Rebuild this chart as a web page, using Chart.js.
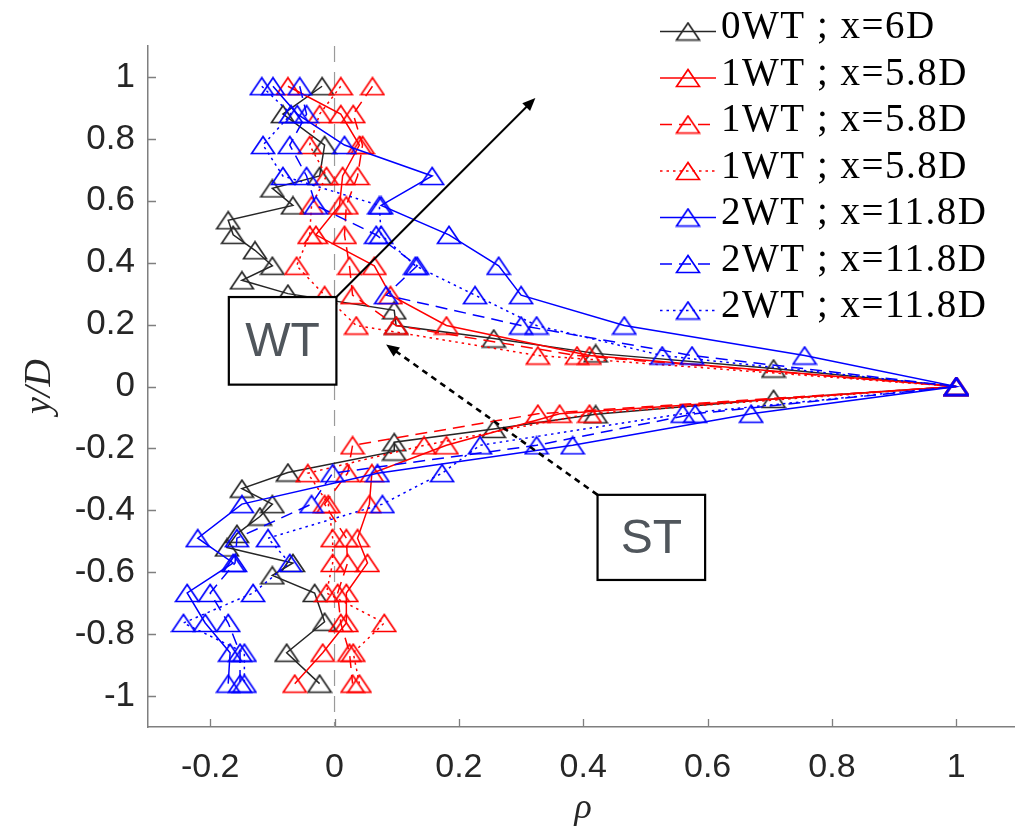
<!DOCTYPE html>
<html>
<head>
<meta charset="utf-8">
<script src="https://cdn.jsdelivr.net/npm/chart.js@4.4.1/dist/chart.umd.min.js"></script>
<style>
  html, body { margin: 0; padding: 0; background: #fff; overflow: hidden; }
  #wrap { width: 1015px; height: 833px; overflow: hidden; }
</style>
</head>
<body>
<div id="wrap"><canvas id="profile-chart" width="1030" height="833"></canvas></div>
<script>
// ===== Correlation profiles rho vs y/D =====
// Values.

const seriesLabels = [
  '0WT ; x=6D',
  '1WT ; x=5.8D',
  '1WT ; x=5.8D',
  '1WT ; x=5.8D',
  '2WT ; x=11.8D',
  '2WT ; x=11.8D',
  '2WT ; x=11.8D',
];

// 0WT has its own (finer) y stations
const yBlack = [0.97, 0.88, 0.78, 0.68, 0.64, 0.585, 0.537, 0.49, 0.44, 0.39,
  0.343, 0.30, 0.246, 0.197, 0.155, 0.107, 0.058, 0,
  -0.04, -0.09, -0.137, -0.18, -0.21, -0.278, -0.33, -0.38, -0.42, -0.476,
  -0.52, -0.57, -0.61, -0.667, -0.76, -0.86, -0.96];
const xBlack = [-0.02, -0.083, -0.016, -0.024, -0.10, -0.067, -0.171, -0.163, -0.128, -0.10,
  -0.149, -0.075, 0.096, 0.099, 0.256, 0.42, 0.706, 1,
  0.706, 0.42, 0.256, 0.096, 0.096, -0.075, -0.149, -0.10, -0.12, -0.157,
  -0.173, -0.067, -0.10, -0.032, -0.016, -0.077, -0.024];

// 1WT / 2WT stations
const yProfile = [0.97, 0.88, 0.78, 0.68, 0.585, 0.49, 0.39, 0.295, 0.197, 0.1, 0,
  -0.088, -0.19, -0.28, -0.38, -0.49, -0.57, -0.667, -0.764, -0.86, -0.96];

const xRedSolid  = [-0.075, 0.01, 0.04, 0.013, 0.008, -0.03, 0.064, 0.09, 0.18, 0.41, 1,
  0.362, 0.18, 0.06, 0.056, 0.037, 0.053, 0.019, 0.019, -0.019, -0.064];
const xRedDashed = [0.061, 0.03, 0.045, 0.037, 0.019, 0.016, 0.024, 0.029, 0.099, 0.39, 1,
  0.327, 0.029, 0.021, -0.016, 0.019, 0.021, 0.005, 0.01, 0.024, 0.029];
const xRedDotted = [0.01, -0.024, -0.04, -0.013, -0.037, -0.04, -0.061, -0.016, 0.035, 0.327, 1,
  0.41, 0.144, -0.043, -0.01, -0.003, -0.003, -0.013, 0.08, 0.03, 0.04];

const xBlueSolid  = [-0.099, -0.06, 0.016, 0.157, 0.075, 0.184, 0.264, 0.3, 0.466, 0.756, 1,
  0.67, 0.383, 0.069, -0.149, -0.22, -0.163, -0.237, -0.208, -0.168, -0.171];
const xBlueDashed = [-0.056, -0.045, -0.072, -0.045, -0.03, 0.067, 0.133, 0.083, 0.3, 0.575, 1,
  0.58, 0.325, -0.003, -0.037, -0.157, -0.16, -0.2, -0.171, -0.152, -0.152];
const xBlueDotted = [-0.117, -0.07, -0.115, -0.083, 0.072, 0.075, 0.13, 0.226, 0.325, 0.527, 1,
  0.56, 0.234, 0.173, 0.077, -0.107, -0.072, -0.131, -0.243, -0.145, -0.145];

const xTicks = [-0.2, 0, 0.2, 0.4, 0.6, 0.8, 1];
const yTicks = [-1, -0.8, -0.6, -0.4, -0.2, 0, 0.2, 0.4, 0.6, 0.8, 1];

// annotation boxes / arrows, in data units
const noteBoxes = [
  { text: 'WT', x0: -0.170, x1: 0.003, y0: 0.289, y1: 0.006 },
  { text: 'ST', x0: 0.423, x1: 0.596, y0: -0.350, y1: -0.625 },
];
const noteArrows = [
  { from: [0.003, 0.289], to: [0.323, 0.932], dash: [], width: 2 },
  { from: [0.423, -0.350], to: [0.083, 0.136], dash: [6, 5], width: 2.6 },
];

const SANS = "'Liberation Sans', Arial, Helvetica, sans-serif";
const SERIF = "'Liberation Serif', 'Times New Roman', serif";
const BLACK = '#262626';
const RED = '#ff0000';
const BLUE = '#0000ff';

// open "^" marker like MATLAB
function triangleMarker(color) {
  const c = document.createElement('canvas');
  c.width = 26;
  c.height = 20;
  const g = c.getContext('2d');
  g.strokeStyle = color;
  g.lineWidth = 1.7;
  g.beginPath();
  g.moveTo(13, 1.5);
  g.lineTo(24.5, 18.5);
  g.lineTo(1.5, 18.5);
  g.closePath();
  g.stroke();
  return c;
}

function toPoints(xs, ys) {
  return xs.map((x, i) => ({ x: x, y: ys[i] }));
}

function makeDataset(idx, xs, ys, color, dash) {
  return {
    label: seriesLabels[idx],
    data: toPoints(xs, ys),
    showLine: true,
    borderColor: color,
    backgroundColor: 'transparent',
    borderWidth: 1.5,
    borderDash: dash,
    pointStyle: triangleMarker(color),
    pointRadius: 10,
    tension: 0,
    order: -idx, // later series on top, like MATLAB
  };
}

const DOT = [2.5, 4];
const DASH = [12, 7];

const datasets = [
  makeDataset(0, xBlack, yBlack, BLACK, []),
  makeDataset(1, xRedSolid, yProfile, RED, []),
  makeDataset(2, xRedDashed, yProfile, RED, DASH),
  makeDataset(3, xRedDotted, yProfile, RED, DOT),
  makeDataset(4, xBlueSolid, yProfile, BLUE, []),
  makeDataset(5, xBlueDashed, yProfile, BLUE, DASH),
  makeDataset(6, xBlueDotted, yProfile, BLUE, DOT),
];

// ---- extra drawing: zero line, inward ticks, notes, legend ----

function drawArrowHead(ctx, x0, y0, x1, y1) {
  const ang = Math.atan2(y1 - y0, x1 - x0);
  const len = 13, half = 5.5;
  ctx.beginPath();
  ctx.moveTo(x1, y1);
  ctx.lineTo(x1 - len * Math.cos(ang) + half * Math.sin(ang), y1 - len * Math.sin(ang) - half * Math.cos(ang));
  ctx.lineTo(x1 - len * Math.cos(ang) - half * Math.sin(ang), y1 - len * Math.sin(ang) + half * Math.cos(ang));
  ctx.closePath();
  ctx.fill();
}

const extras = {
  id: 'extras',
  beforeDatasetsDraw(chart) {
    const { ctx, chartArea } = chart;
    const xs = chart.scales.x;
    const px = xs.getPixelForValue(0);
    ctx.save();
    ctx.strokeStyle = '#9a9a9a';
    ctx.lineWidth = 1.2;
    ctx.setLineDash([16, 10]);
    ctx.beginPath();
    ctx.moveTo(px, chartArea.top);
    ctx.lineTo(px, chartArea.bottom);
    ctx.stroke();
    ctx.restore();
  },
  afterDraw(chart) {
    const { ctx, chartArea } = chart;
    const xs = chart.scales.x;
    const ys = chart.scales.y;
    ctx.save();

    // inward ticks
    ctx.strokeStyle = '#7f7f7f';
    ctx.lineWidth = 1.3;
    ctx.setLineDash([]);
    ctx.beginPath();
    xTicks.forEach(v => {
      const p = Math.round(xs.getPixelForValue(v)) + 0.5;
      ctx.moveTo(p, chartArea.bottom);
      ctx.lineTo(p, chartArea.bottom - 8);
    });
    yTicks.forEach(v => {
      const p = Math.round(ys.getPixelForValue(v)) + 0.5;
      ctx.moveTo(chartArea.left, p);
      ctx.lineTo(chartArea.left + 8, p);
    });
    ctx.stroke();

    // arrows
    ctx.strokeStyle = '#000';
    ctx.fillStyle = '#000';
    noteArrows.forEach(a => {
      const x0 = xs.getPixelForValue(a.from[0]), y0 = ys.getPixelForValue(a.from[1]);
      const x1 = xs.getPixelForValue(a.to[0]), y1 = ys.getPixelForValue(a.to[1]);
      const ang = Math.atan2(y1 - y0, x1 - x0);
      ctx.lineWidth = a.width;
      ctx.setLineDash(a.dash);
      ctx.beginPath();
      ctx.moveTo(x0, y0);
      ctx.lineTo(x1 - 10 * Math.cos(ang), y1 - 10 * Math.sin(ang));
      ctx.stroke();
      ctx.setLineDash([]);
      drawArrowHead(ctx, x0, y0, x1, y1);
    });

    // boxes with text
    noteBoxes.forEach(b => {
      const l = xs.getPixelForValue(b.x0), r = xs.getPixelForValue(b.x1);
      const t = ys.getPixelForValue(b.y0), btm = ys.getPixelForValue(b.y1);
      ctx.fillStyle = '#fff';
      ctx.fillRect(l, t, r - l, btm - t);
      ctx.strokeStyle = '#000';
      ctx.lineWidth = 2.2;
      ctx.strokeRect(l, t, r - l, btm - t);
      ctx.fillStyle = '#50565c';
      ctx.font = '48px ' + SANS;
      ctx.textAlign = 'center';
      ctx.textBaseline = 'middle';
      ctx.fillText(b.text, (l + r) / 2, (t + btm) / 2 + 2);
    });

    // legend (top right, no box)
    chart.data.datasets.forEach((ds, i) => {
      const rowY = 28 + i * 46.5;
      const lineY = rowY + 3.5;
      ctx.strokeStyle = ds.borderColor;
      ctx.lineWidth = 1.5;
      ctx.setLineDash(ds.borderDash || []);
      ctx.beginPath();
      ctx.moveTo(660, lineY);
      ctx.lineTo(716, lineY);
      ctx.stroke();
      ctx.setLineDash([]);
      ctx.drawImage(ds.pointStyle, 688 - 13, lineY - 10);
      ctx.fillStyle = '#000';
      ctx.font = '39px ' + SERIF;
      ctx.letterSpacing = '1.5px';
      ctx.textAlign = 'left';
      ctx.textBaseline = 'middle';
      ctx.fillText(ds.label, 721, rowY);
      ctx.letterSpacing = '0px';
    });

    ctx.restore();
  },
};

new Chart(document.getElementById('profile-chart'), {
  type: 'scatter',
  data: { datasets: datasets },
  options: {
    responsive: false,
    animation: false,
    devicePixelRatio: 1,
    events: [],
    layout: { padding: { top: 46, right: 6, left: 0, bottom: 0 } },
    plugins: {
      legend: { display: false },
      tooltip: { enabled: false },
    },
    scales: {
      x: {
        type: 'linear',
        min: -0.3,
        max: 1.1,
        afterBuildTicks: (s) => { s.ticks = xTicks.map(v => ({ value: v })); },
        afterFit: (s) => { s.height = 106; },
        grid: { display: false, drawTicks: false },
        border: { display: true, color: '#7f7f7f', width: 1.5 },
        ticks: {
          font: { family: SANS, size: 34 },
          color: BLACK,
          padding: 20,
          maxRotation: 0,
          autoSkip: false,
          callback: (v) => String(v),
        },
        title: {
          display: true,
          text: 'ρ',
          color: BLACK,
          font: { family: SERIF, size: 36, style: 'italic' },
          padding: { top: 0, bottom: 3 },
        },
      },
      y: {
        type: 'linear',
        min: -1.1,
        max: 1.1,
        afterBuildTicks: (s) => { s.ticks = yTicks.map(v => ({ value: v })); },
        afterFit: (s) => { s.width = 148; },
        grid: { display: false, drawTicks: false },
        border: { display: true, color: '#7f7f7f', width: 1.5 },
        ticks: {
          font: { family: SANS, size: 35 },
          color: BLACK,
          padding: 13,
          autoSkip: false,
          callback: (v) => String(v),
        },
        title: {
          display: true,
          text: 'y/D',
          color: BLACK,
          font: { family: SERIF, size: 38, style: 'italic' },
          padding: { top: 17, bottom: 0 },
        },
      },
    },
  },
  plugins: [extras],
});
</script>
</body>
</html>
